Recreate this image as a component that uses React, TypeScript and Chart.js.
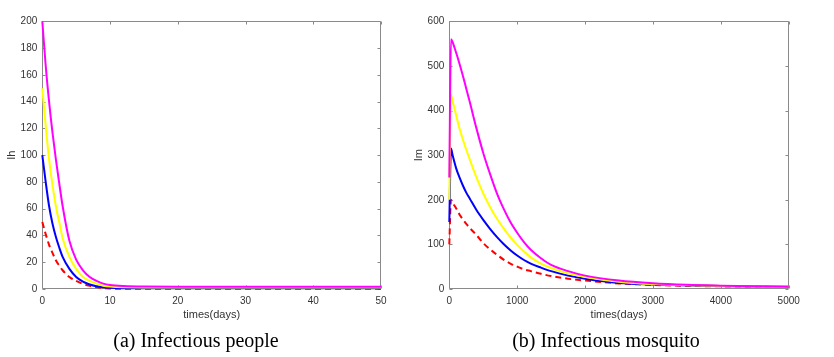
import React, { useEffect, useRef } from 'react';
import { Chart, registerables } from 'chart.js';

Chart.register(...registerables);

// ---------- data ----------
const humanDays = [0, 0.5, 1, 1.5, 2, 2.5, 3, 4, 5, 6, 7, 8, 9, 10, 12, 15, 20, 30, 40, 50];
const humanIh200 = [200, 167, 140, 117, 97, 79, 62, 36, 22, 14, 9, 6, 4, 3, 2.2, 1.8, 1.7, 1.7, 1.7, 1.7];
const humanIh150 = [150, 122, 97, 78, 62, 50, 38, 24, 15, 9, 6, 4, 2.5, 1.8, 1.3, 1.2, 1.2, 1.2, 1.2, 1.2];
const humanIh100 = [100, 80, 62, 49, 39, 31, 24, 15, 9, 5.5, 3.4, 2.1, 1.3, 0.9, 0.6, 0.5, 0.5, 0.5, 0.5, 0.5];
const humanIh50 = [50, 41, 33, 27, 21.5, 17.5, 14, 9, 6, 3.8, 2.4, 1.4, 0.7, 0.4, 0.15, 0.1, 0.1, 0.1, 0.1, 0.1];

const mosqDays = [0, 25, 50, 100, 150, 200, 250, 300, 400, 500, 600, 700, 800, 900, 1000, 1100, 1200, 1350, 1500, 1750, 2000, 2500, 3000, 3500, 4000, 4500, 5000];
const mosqIm250 = [250, 560, 553, 530, 505, 478, 449, 420, 360, 305, 258, 215, 180, 150, 126, 105, 88, 69, 54, 40, 30, 19, 13, 9.5, 7.5, 6, 5];
const mosqIm200 = [200, 435, 420, 390, 360, 335, 312, 291, 250, 214, 184, 158, 136, 116, 99, 84, 71, 57, 47, 35, 27, 16.5, 11, 8.5, 7, 5.8, 5];
const mosqIm150 = [150, 315, 299, 271, 250, 232, 216, 203, 177, 155, 135, 117, 101, 87, 75, 65, 57, 48, 40, 30, 23, 13.5, 10, 8, 6.5, 5.5, 4.8];
const mosqIm100 = [100, 200, 193, 181, 167, 156, 146, 137, 121, 103, 89, 77, 66, 57, 50, 44, 40, 34, 29, 23, 19, 12.5, 9, 7, 6, 5, 4.5];

const xTitle = 'times(days)';
const leftYTitle = 'Ih';
const rightYTitle = 'Im';
const leftCaption = '(a) Infectious people';
const rightCaption = '(b) Infectious mosquito';

// ---------- styles ----------
const AXIS = '#8a8a8a';
const TEXT = '#333333';
const SANS = 'Liberation Sans, Arial, Helvetica, sans-serif';
const TICK_LEN = 3;

const boxPlugin = {
  id: 'matlabBox',
  beforeDatasetsDraw(chart: any) {
    const { ctx, chartArea: a } = chart;
    const xs = chart.scales.x;
    const ys = chart.scales.y;
    const L = Math.round(a.left) + 0.5;
    const R = Math.round(a.right) - 0.5;
    const T = Math.round(a.top) + 0.5;
    const B = Math.round(a.bottom) - 0.5;
    ctx.save();
    ctx.strokeStyle = AXIS;
    ctx.lineWidth = 1;
    ctx.beginPath();
    ctx.rect(L, T, R - L, B - T);
    xs.ticks.forEach((t: any) => {
      const px = Math.round(xs.getPixelForValue(t.value)) + 0.5;
      ctx.moveTo(px, B);
      ctx.lineTo(px, B - TICK_LEN);
      ctx.moveTo(px, T);
      ctx.lineTo(px, T + TICK_LEN);
    });
    ys.ticks.forEach((t: any) => {
      const py = Math.round(ys.getPixelForValue(t.value)) + 0.5;
      ctx.moveTo(L, py);
      ctx.lineTo(L + TICK_LEN, py);
      ctx.moveTo(R, py);
      ctx.lineTo(R - TICK_LEN, py);
    });
    ctx.stroke();
    ctx.restore();
  },
};

type Series = { values: number[]; color: string; dash?: number[] };

function buildConfig(o: {
  days: number[];
  series: Series[];
  xMax: number;
  xStep: number;
  yMax: number;
  yStep: number;
  yTitle: string;
  yWidth: number;
  yTitlePad: number;
  padRight: number;
}): any {
  return {
    type: 'line',
    data: {
      datasets: o.series.map((s) => ({
        data: o.days.map((d, i) => ({ x: d, y: s.values[i] })),
        borderColor: s.color,
        borderWidth: 2,
        borderDash: s.dash ?? [],
        pointRadius: 0,
        cubicInterpolationMode: 'monotone',
        fill: false,
        clip: false,
      })),
    },
    options: {
      animation: false,
      responsive: false,
      events: [],
      layout: { padding: { left: 0, right: o.padRight, top: 21.3, bottom: 35 } },
      plugins: { legend: { display: false }, tooltip: { enabled: false } },
      scales: {
        x: {
          type: 'linear',
          min: 0,
          max: o.xMax,
          ticks: {
            stepSize: o.xStep,
            padding: 6,
            color: TEXT,
            font: { family: SANS, size: 10 },
            maxRotation: 0,
            autoSkip: false,
            callback: (v: any) => String(v),
          },
          grid: { display: false, drawTicks: false },
          border: { display: false },
          title: { display: true, text: xTitle, color: TEXT, font: { family: SANS, size: 11 }, padding: 0 },
          afterFit: (s: any) => {
            s.height = 33;
          },
        },
        y: {
          type: 'linear',
          min: 0,
          max: o.yMax,
          ticks: {
            stepSize: o.yStep,
            padding: 5,
            color: TEXT,
            font: { family: SANS, size: 10 },
            autoSkip: false,
            callback: (v: any) => String(v),
          },
          grid: { display: false, drawTicks: false },
          border: { display: false },
          title: {
            display: true,
            text: o.yTitle,
            color: TEXT,
            font: { family: SANS, size: 11 },
            padding: { top: o.yTitlePad, bottom: 0 },
          },
          afterFit: (s: any) => {
            s.width = o.yWidth;
          },
        },
      },
    },
    plugins: [boxPlugin],
  };
}

const captionStyle = (cx: number): React.CSSProperties => ({
  position: 'absolute',
  left: cx - 200,
  width: 400,
  top: 330,
  textAlign: 'center',
  fontFamily: '"Liberation Serif", "Times New Roman", serif',
  fontSize: 20,
  lineHeight: '20px',
  color: '#000',
  whiteSpace: 'nowrap',
});

export default function App() {
  const leftRef = useRef<HTMLCanvasElement>(null);
  const rightRef = useRef<HTMLCanvasElement>(null);

  useEffect(() => {
    const c1 = new Chart(
      leftRef.current as HTMLCanvasElement,
      buildConfig({
        days: humanDays,
        series: [
          { values: humanIh200, color: '#ff00ff' },
          { values: humanIh150, color: '#ffff00' },
          { values: humanIh100, color: '#0000ff' },
          { values: humanIh50, color: '#ff0000', dash: [6, 4] },
        ],
        xMax: 50,
        xStep: 10,
        yMax: 200,
        yStep: 20,
        yTitle: leftYTitle,
        yWidth: 42.3,
        yTitlePad: 5.4,
        padRight: 19,
      })
    );
    const c2 = new Chart(
      rightRef.current as HTMLCanvasElement,
      buildConfig({
        days: mosqDays,
        series: [
          { values: mosqIm250, color: '#ff00ff' },
          { values: mosqIm200, color: '#ffff00' },
          { values: mosqIm150, color: '#0000ff' },
          { values: mosqIm100, color: '#ff0000', dash: [6, 4] },
        ],
        xMax: 5000,
        xStep: 1000,
        yMax: 600,
        yStep: 100,
        yTitle: rightYTitle,
        yWidth: 49.3,
        yTitlePad: 12.4,
        padRight: 45.3,
      })
    );
    return () => {
      c1.destroy();
      c2.destroy();
    };
  }, []);

  return (
    <div style={{ position: 'absolute', left: 0, top: 0, width: 834, height: 357, background: '#fff', overflow: 'hidden' }}>
      <canvas ref={leftRef} width={400} height={357} style={{ position: 'absolute', left: 0, top: 0 }} />
      <canvas ref={rightRef} width={434} height={357} style={{ position: 'absolute', left: 400, top: 0 }} />
      <div style={captionStyle(196)}>{leftCaption}</div>
      <div style={captionStyle(606)}>{rightCaption}</div>
    </div>
  );
}
